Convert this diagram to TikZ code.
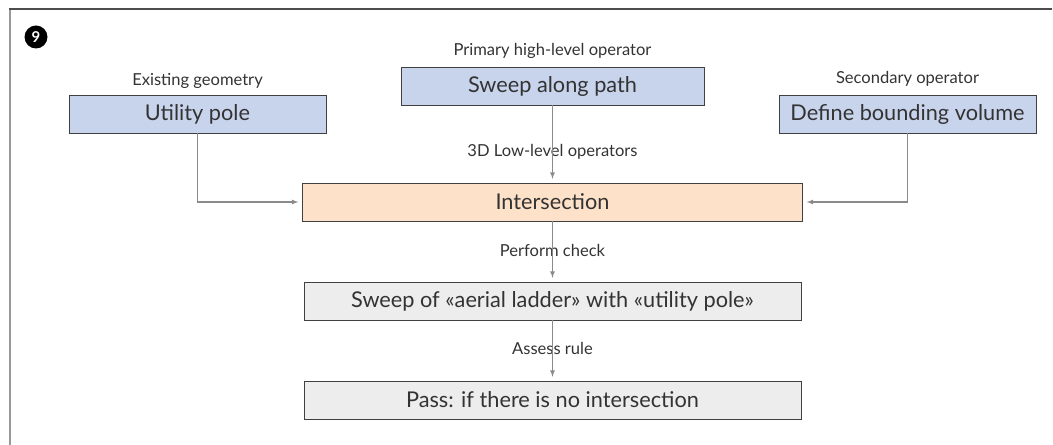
\documentclass[tikz,border=0pt]{standalone}
\usepackage{fontspec}
\setmainfont{Lato}
\usetikzlibrary{positioning, arrows}
\definecolor{opblue}{HTML}{C8D3EC}
\definecolor{oppeach}{HTML}{FDE1C9}
\definecolor{opgray}{HTML}{EDEDED}
\definecolor{linegray}{HTML}{8A8A8A}
\definecolor{textgray}{HTML}{333333}
\tikzstyle{operand} = [rectangle, minimum width=257bp, minimum height=38bp, inner sep=0pt, text centered, draw=black!75, fill=opblue, text=textgray, font=\fontsize{21.8}{26}\selectfont]
\tikzstyle{lowlevel} = [operand, minimum width=500bp, fill=oppeach]
\tikzstyle{checkbox} = [operand, minimum width=497bp, fill=opgray]
\tikzstyle{lbl} = [inner sep=0pt, text=textgray, font=\fontsize{16.6}{20}\selectfont]
\tikzstyle{arrow} = [draw=linegray, line width=1.2bp, ->, >=latex, shorten >=4bp]

\begin{document}
\begin{tikzpicture}[x=1bp, y=-1bp, node distance=99bp]
  \useasboundingbox (0,0) rectangle (1053,445);
  % frame
  \draw [draw=black!40, line width=2bp] (10,445) -- (10,9);
  \draw [draw=black!70, line width=2bp] (9,9) -- (1052,9);
  \node (badge) [circle, fill=black, inner sep=0pt, minimum size=23bp, text=white, font=\bfseries\fontsize{15}{15}\selectfont] at (36,37) {9};

  % operators
  \node (sweep) [operand, minimum width=303bp] at (552.5,86) {Sweep along path};
  \node (pole) [operand] at (197.5,114) {Utility pole};
  \node (bound) [operand] at (907.5,114) {Define bounding volume};
  \node (inter) [lowlevel] at (552.5,202) {Intersection};
  \node (ladder) [checkbox, below of=inter] {Sweep of «aerial ladder» with «utility pole»};
  \node (pass) [checkbox, below of=ladder] {Pass: if there is no intersection};

  % labels
  \node (lblsweep) [lbl, anchor=base] at ([yshift=11bp]sweep.north) {Primary high-level operator};
  \node (lblpole) [lbl, anchor=base] at ([yshift=9bp]pole.north) {Existing geometry};
  \node (lblbound) [lbl, anchor=base] at ([yshift=11bp]bound.north) {Secondary operator};
  \node (lblinter) [lbl, anchor=base] at ([yshift=26bp]inter.north) {3D Low-level operators};
  \node (lblladder) [lbl, anchor=base] at ([yshift=25bp]ladder.north) {Perform check};
  \node (lblpass) [lbl, anchor=base] at ([yshift=26bp]pass.north) {Assess rule};

  % connectors
  \draw [arrow] (sweep) -- (inter);
  \draw [arrow] (pole) |- (inter);
  \draw [arrow] (bound) |- (inter);
  \draw [arrow] (inter) -- (ladder);
  \draw [arrow] (ladder) -- (pass);
\end{tikzpicture}
\end{document}
